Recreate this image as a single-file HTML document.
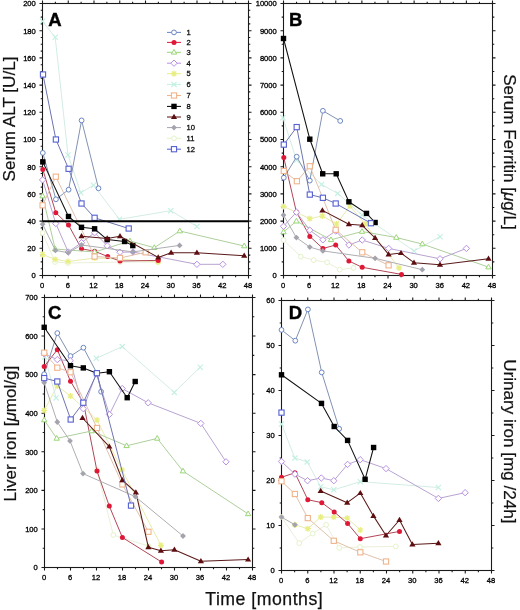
<!DOCTYPE html>
<html><head><meta charset="utf-8"><style>
html,body{margin:0;padding:0;background:#fff;overflow:hidden;width:520px;height:610px;}
svg{display:block;filter:blur(0.45px);}
text{font-family:"Liberation Sans",sans-serif;fill:#111;}
.tl{font-size:7.6px;fill:#000;stroke:#000;stroke-width:0.3px;}
.lg{font-size:7.6px;stroke:#111;stroke-width:0.3px;}
.pl{font-size:18.5px;font-weight:bold;fill:#000;stroke:#000;stroke-width:0.4px;}
.ti{font-size:17.1px;stroke:#111;stroke-width:0.2px;}
.tt{font-size:17.7px;letter-spacing:0.5px;stroke:#111;stroke-width:0.25px;}
</style></head><body>
<svg width="520" height="610" viewBox="0 0 520 610">
<rect x="42.50" y="3.50" width="206.00" height="272.00" fill="none" stroke="#1a1a1a" stroke-width="1.1"/>
<path d="M42.50 275.50v3M42.50 3.50v-3M55.38 275.50v1.8M55.38 3.50v-1.8M68.25 275.50v3M68.25 3.50v-3M81.12 275.50v1.8M81.12 3.50v-1.8M94.00 275.50v3M94.00 3.50v-3M106.88 275.50v1.8M106.88 3.50v-1.8M119.75 275.50v3M119.75 3.50v-3M132.62 275.50v1.8M132.62 3.50v-1.8M145.50 275.50v3M145.50 3.50v-3M158.38 275.50v1.8M158.38 3.50v-1.8M171.25 275.50v3M171.25 3.50v-3M184.12 275.50v1.8M184.12 3.50v-1.8M197.00 275.50v3M197.00 3.50v-3M209.88 275.50v1.8M209.88 3.50v-1.8M222.75 275.50v3M222.75 3.50v-3M235.62 275.50v1.8M235.62 3.50v-1.8M248.50 275.50v3M248.50 3.50v-3M42.50 275.50h-3M248.50 275.50h3M42.50 268.70h-1.8M248.50 268.70h1.8M42.50 261.90h-1.8M248.50 261.90h1.8M42.50 255.10h-1.8M248.50 255.10h1.8M42.50 248.30h-3M248.50 248.30h3M42.50 241.50h-1.8M248.50 241.50h1.8M42.50 234.70h-1.8M248.50 234.70h1.8M42.50 227.90h-1.8M248.50 227.90h1.8M42.50 221.10h-3M248.50 221.10h3M42.50 214.30h-1.8M248.50 214.30h1.8M42.50 207.50h-1.8M248.50 207.50h1.8M42.50 200.70h-1.8M248.50 200.70h1.8M42.50 193.90h-3M248.50 193.90h3M42.50 187.10h-1.8M248.50 187.10h1.8M42.50 180.30h-1.8M248.50 180.30h1.8M42.50 173.50h-1.8M248.50 173.50h1.8M42.50 166.70h-3M248.50 166.70h3M42.50 159.90h-1.8M248.50 159.90h1.8M42.50 153.10h-1.8M248.50 153.10h1.8M42.50 146.30h-1.8M248.50 146.30h1.8M42.50 139.50h-3M248.50 139.50h3M42.50 132.70h-1.8M248.50 132.70h1.8M42.50 125.90h-1.8M248.50 125.90h1.8M42.50 119.10h-1.8M248.50 119.10h1.8M42.50 112.30h-3M248.50 112.30h3M42.50 105.50h-1.8M248.50 105.50h1.8M42.50 98.70h-1.8M248.50 98.70h1.8M42.50 91.90h-1.8M248.50 91.90h1.8M42.50 85.10h-3M248.50 85.10h3M42.50 78.30h-1.8M248.50 78.30h1.8M42.50 71.50h-1.8M248.50 71.50h1.8M42.50 64.70h-1.8M248.50 64.70h1.8M42.50 57.90h-3M248.50 57.90h3M42.50 51.10h-1.8M248.50 51.10h1.8M42.50 44.30h-1.8M248.50 44.30h1.8M42.50 37.50h-1.8M248.50 37.50h1.8M42.50 30.70h-3M248.50 30.70h3M42.50 23.90h-1.8M248.50 23.90h1.8M42.50 17.10h-1.8M248.50 17.10h1.8M42.50 10.30h-1.8M248.50 10.30h1.8M42.50 3.50h-3M248.50 3.50h3" stroke="#1a1a1a" stroke-width="1.1" fill="none"/>
<text x="35.80" y="278.30" class="tl" text-anchor="end">0</text>
<text x="35.80" y="251.10" class="tl" text-anchor="end">20</text>
<text x="35.80" y="223.90" class="tl" text-anchor="end">40</text>
<text x="35.80" y="196.70" class="tl" text-anchor="end">60</text>
<text x="35.80" y="169.50" class="tl" text-anchor="end">80</text>
<text x="35.80" y="142.30" class="tl" text-anchor="end">100</text>
<text x="35.80" y="115.10" class="tl" text-anchor="end">120</text>
<text x="35.80" y="87.90" class="tl" text-anchor="end">140</text>
<text x="35.80" y="60.70" class="tl" text-anchor="end">160</text>
<text x="35.80" y="33.50" class="tl" text-anchor="end">180</text>
<text x="35.80" y="6.30" class="tl" text-anchor="end">200</text>
<text x="42.00" y="287.90" class="tl" text-anchor="middle">0</text>
<text x="67.75" y="287.90" class="tl" text-anchor="middle">6</text>
<text x="93.50" y="287.90" class="tl" text-anchor="middle">12</text>
<text x="119.25" y="287.90" class="tl" text-anchor="middle">18</text>
<text x="145.00" y="287.90" class="tl" text-anchor="middle">24</text>
<text x="170.75" y="287.90" class="tl" text-anchor="middle">30</text>
<text x="196.50" y="287.90" class="tl" text-anchor="middle">36</text>
<text x="222.25" y="287.90" class="tl" text-anchor="middle">42</text>
<text x="248.00" y="287.90" class="tl" text-anchor="middle">48</text>
<rect x="283.50" y="3.50" width="209.00" height="272.00" fill="none" stroke="#1a1a1a" stroke-width="1.1"/>
<path d="M283.50 275.50v3M283.50 3.50v-3M296.56 275.50v1.8M296.56 3.50v-1.8M309.62 275.50v3M309.62 3.50v-3M322.69 275.50v1.8M322.69 3.50v-1.8M335.75 275.50v3M335.75 3.50v-3M348.81 275.50v1.8M348.81 3.50v-1.8M361.88 275.50v3M361.88 3.50v-3M374.94 275.50v1.8M374.94 3.50v-1.8M388.00 275.50v3M388.00 3.50v-3M401.06 275.50v1.8M401.06 3.50v-1.8M414.12 275.50v3M414.12 3.50v-3M427.19 275.50v1.8M427.19 3.50v-1.8M440.25 275.50v3M440.25 3.50v-3M453.31 275.50v1.8M453.31 3.50v-1.8M466.38 275.50v3M466.38 3.50v-3M479.44 275.50v1.8M479.44 3.50v-1.8M492.50 275.50v3M492.50 3.50v-3M283.50 275.50h-3M492.50 275.50h3M283.50 261.90h-1.8M492.50 261.90h1.8M283.50 248.30h-3M492.50 248.30h3M283.50 234.70h-1.8M492.50 234.70h1.8M283.50 221.10h-3M492.50 221.10h3M283.50 207.50h-1.8M492.50 207.50h1.8M283.50 193.90h-3M492.50 193.90h3M283.50 180.30h-1.8M492.50 180.30h1.8M283.50 166.70h-3M492.50 166.70h3M283.50 153.10h-1.8M492.50 153.10h1.8M283.50 139.50h-3M492.50 139.50h3M283.50 125.90h-1.8M492.50 125.90h1.8M283.50 112.30h-3M492.50 112.30h3M283.50 98.70h-1.8M492.50 98.70h1.8M283.50 85.10h-3M492.50 85.10h3M283.50 71.50h-1.8M492.50 71.50h1.8M283.50 57.90h-3M492.50 57.90h3M283.50 44.30h-1.8M492.50 44.30h1.8M283.50 30.70h-3M492.50 30.70h3M283.50 17.10h-1.8M492.50 17.10h1.8M283.50 3.50h-3M492.50 3.50h3" stroke="#1a1a1a" stroke-width="1.1" fill="none"/>
<text x="276.80" y="278.30" class="tl" text-anchor="end">0</text>
<text x="276.80" y="251.10" class="tl" text-anchor="end">1000</text>
<text x="276.80" y="223.90" class="tl" text-anchor="end">2000</text>
<text x="276.80" y="196.70" class="tl" text-anchor="end">3000</text>
<text x="276.80" y="169.50" class="tl" text-anchor="end">4000</text>
<text x="276.80" y="142.30" class="tl" text-anchor="end">5000</text>
<text x="276.80" y="115.10" class="tl" text-anchor="end">6000</text>
<text x="276.80" y="87.90" class="tl" text-anchor="end">7000</text>
<text x="276.80" y="60.70" class="tl" text-anchor="end">8000</text>
<text x="276.80" y="33.50" class="tl" text-anchor="end">9000</text>
<text x="276.80" y="6.30" class="tl" text-anchor="end">10000</text>
<text x="283.00" y="287.90" class="tl" text-anchor="middle">0</text>
<text x="309.12" y="287.90" class="tl" text-anchor="middle">6</text>
<text x="335.25" y="287.90" class="tl" text-anchor="middle">12</text>
<text x="361.38" y="287.90" class="tl" text-anchor="middle">18</text>
<text x="387.50" y="287.90" class="tl" text-anchor="middle">24</text>
<text x="413.62" y="287.90" class="tl" text-anchor="middle">30</text>
<text x="439.75" y="287.90" class="tl" text-anchor="middle">36</text>
<text x="465.88" y="287.90" class="tl" text-anchor="middle">42</text>
<text x="492.00" y="287.90" class="tl" text-anchor="middle">48</text>
<rect x="44.50" y="297.50" width="208.00" height="270.00" fill="none" stroke="#1a1a1a" stroke-width="1.1"/>
<path d="M44.50 567.50v3M44.50 297.50v-3M57.50 567.50v1.8M57.50 297.50v-1.8M70.50 567.50v3M70.50 297.50v-3M83.50 567.50v1.8M83.50 297.50v-1.8M96.50 567.50v3M96.50 297.50v-3M109.50 567.50v1.8M109.50 297.50v-1.8M122.50 567.50v3M122.50 297.50v-3M135.50 567.50v1.8M135.50 297.50v-1.8M148.50 567.50v3M148.50 297.50v-3M161.50 567.50v1.8M161.50 297.50v-1.8M174.50 567.50v3M174.50 297.50v-3M187.50 567.50v1.8M187.50 297.50v-1.8M200.50 567.50v3M200.50 297.50v-3M213.50 567.50v1.8M213.50 297.50v-1.8M226.50 567.50v3M226.50 297.50v-3M239.50 567.50v1.8M239.50 297.50v-1.8M252.50 567.50v3M252.50 297.50v-3M44.50 567.50h-3M252.50 567.50h3M44.50 548.21h-1.8M252.50 548.21h1.8M44.50 528.93h-3M252.50 528.93h3M44.50 509.64h-1.8M252.50 509.64h1.8M44.50 490.36h-3M252.50 490.36h3M44.50 471.07h-1.8M252.50 471.07h1.8M44.50 451.79h-3M252.50 451.79h3M44.50 432.50h-1.8M252.50 432.50h1.8M44.50 413.21h-3M252.50 413.21h3M44.50 393.93h-1.8M252.50 393.93h1.8M44.50 374.64h-3M252.50 374.64h3M44.50 355.36h-1.8M252.50 355.36h1.8M44.50 336.07h-3M252.50 336.07h3M44.50 316.79h-1.8M252.50 316.79h1.8M44.50 297.50h-3M252.50 297.50h3" stroke="#1a1a1a" stroke-width="1.1" fill="none"/>
<text x="37.80" y="570.30" class="tl" text-anchor="end">0</text>
<text x="37.80" y="531.73" class="tl" text-anchor="end">100</text>
<text x="37.80" y="493.16" class="tl" text-anchor="end">200</text>
<text x="37.80" y="454.59" class="tl" text-anchor="end">300</text>
<text x="37.80" y="416.01" class="tl" text-anchor="end">400</text>
<text x="37.80" y="377.44" class="tl" text-anchor="end">500</text>
<text x="37.80" y="338.87" class="tl" text-anchor="end">600</text>
<text x="37.80" y="300.30" class="tl" text-anchor="end">700</text>
<text x="44.00" y="579.90" class="tl" text-anchor="middle">0</text>
<text x="70.00" y="579.90" class="tl" text-anchor="middle">6</text>
<text x="96.00" y="579.90" class="tl" text-anchor="middle">12</text>
<text x="122.00" y="579.90" class="tl" text-anchor="middle">18</text>
<text x="148.00" y="579.90" class="tl" text-anchor="middle">24</text>
<text x="174.00" y="579.90" class="tl" text-anchor="middle">30</text>
<text x="200.00" y="579.90" class="tl" text-anchor="middle">36</text>
<text x="226.00" y="579.90" class="tl" text-anchor="middle">42</text>
<text x="252.00" y="579.90" class="tl" text-anchor="middle">48</text>
<rect x="281.50" y="300.50" width="210.00" height="270.00" fill="none" stroke="#1a1a1a" stroke-width="1.1"/>
<path d="M281.50 570.50v3M281.50 300.50v-3M294.62 570.50v1.8M294.62 300.50v-1.8M307.75 570.50v3M307.75 300.50v-3M320.88 570.50v1.8M320.88 300.50v-1.8M334.00 570.50v3M334.00 300.50v-3M347.12 570.50v1.8M347.12 300.50v-1.8M360.25 570.50v3M360.25 300.50v-3M373.38 570.50v1.8M373.38 300.50v-1.8M386.50 570.50v3M386.50 300.50v-3M399.62 570.50v1.8M399.62 300.50v-1.8M412.75 570.50v3M412.75 300.50v-3M425.88 570.50v1.8M425.88 300.50v-1.8M439.00 570.50v3M439.00 300.50v-3M452.12 570.50v1.8M452.12 300.50v-1.8M465.25 570.50v3M465.25 300.50v-3M478.38 570.50v1.8M478.38 300.50v-1.8M491.50 570.50v3M491.50 300.50v-3M281.50 570.50h-3M491.50 570.50h3M281.50 548.00h-1.8M491.50 548.00h1.8M281.50 525.50h-3M491.50 525.50h3M281.50 503.00h-1.8M491.50 503.00h1.8M281.50 480.50h-3M491.50 480.50h3M281.50 458.00h-1.8M491.50 458.00h1.8M281.50 435.50h-3M491.50 435.50h3M281.50 413.00h-1.8M491.50 413.00h1.8M281.50 390.50h-3M491.50 390.50h3M281.50 368.00h-1.8M491.50 368.00h1.8M281.50 345.50h-3M491.50 345.50h3M281.50 323.00h-1.8M491.50 323.00h1.8M281.50 300.50h-3M491.50 300.50h3" stroke="#1a1a1a" stroke-width="1.1" fill="none"/>
<text x="274.80" y="573.30" class="tl" text-anchor="end">0</text>
<text x="274.80" y="528.30" class="tl" text-anchor="end">10</text>
<text x="274.80" y="483.30" class="tl" text-anchor="end">20</text>
<text x="274.80" y="438.30" class="tl" text-anchor="end">30</text>
<text x="274.80" y="393.30" class="tl" text-anchor="end">40</text>
<text x="274.80" y="348.30" class="tl" text-anchor="end">50</text>
<text x="274.80" y="303.30" class="tl" text-anchor="end">60</text>
<text x="281.00" y="582.90" class="tl" text-anchor="middle">0</text>
<text x="307.25" y="582.90" class="tl" text-anchor="middle">6</text>
<text x="333.50" y="582.90" class="tl" text-anchor="middle">12</text>
<text x="359.75" y="582.90" class="tl" text-anchor="middle">18</text>
<text x="386.00" y="582.90" class="tl" text-anchor="middle">24</text>
<text x="412.25" y="582.90" class="tl" text-anchor="middle">30</text>
<text x="438.50" y="582.90" class="tl" text-anchor="middle">36</text>
<text x="464.75" y="582.90" class="tl" text-anchor="middle">42</text>
<text x="491.00" y="582.90" class="tl" text-anchor="middle">48</text>
<path d="M42.6 233.0 L55.0 262.0 L68.0 263.0 L120.0 262.0 L158.0 262.0" fill="none" stroke="#e9f0d9" stroke-width="1" stroke-linejoin="round"/>
<circle cx="42.6" cy="233.0" r="2.4" fill="#fff" stroke="#e4f2c8" stroke-width="1"/>
<circle cx="55.0" cy="262.0" r="2.4" fill="#fff" stroke="#e4f2c8" stroke-width="1"/>
<circle cx="68.0" cy="263.0" r="2.4" fill="#fff" stroke="#e4f2c8" stroke-width="1"/>
<circle cx="120.0" cy="262.0" r="2.4" fill="#fff" stroke="#e4f2c8" stroke-width="1"/>
<circle cx="158.0" cy="262.0" r="2.4" fill="#fff" stroke="#e4f2c8" stroke-width="1"/>
<path d="M42.6 254.5 L55.2 259.4 L68.0 261.5 L94.6 258.0 L120.0 259.0 L158.0 262.0" fill="none" stroke="#e7ebaf" stroke-width="1" stroke-linejoin="round"/>
<path d="M39.6 254.5h6M42.6 251.5v6M40.4 252.3l4.4 4.4M44.8 252.3l-4.4 4.4" stroke="#e8ee80" stroke-width="1.2"/>
<path d="M52.2 259.4h6M55.2 256.4v6M53.0 257.2l4.4 4.4M57.4 257.2l-4.4 4.4" stroke="#e8ee80" stroke-width="1.2"/>
<path d="M65.0 261.5h6M68.0 258.5v6M65.8 259.3l4.4 4.4M70.2 259.3l-4.4 4.4" stroke="#e8ee80" stroke-width="1.2"/>
<path d="M91.6 258.0h6M94.6 255.0v6M92.4 255.8l4.4 4.4M96.8 255.8l-4.4 4.4" stroke="#e8ee80" stroke-width="1.2"/>
<path d="M117.0 259.0h6M120.0 256.0v6M117.8 256.8l4.4 4.4M122.2 256.8l-4.4 4.4" stroke="#e8ee80" stroke-width="1.2"/>
<path d="M155.0 262.0h6M158.0 259.0v6M155.8 259.8l4.4 4.4M160.2 259.8l-4.4 4.4" stroke="#e8ee80" stroke-width="1.2"/>
<path d="M42.5 21.3 L55.2 37.3 L68.0 155.0 L80.8 192.8 L93.5 185.2 L119.4 219.3 L170.8 210.7 L196.9 226.5" fill="none" stroke="#d3ece4" stroke-width="1" stroke-linejoin="round"/>
<path d="M39.9 18.7l5.2 5.2M45.1 18.7l-5.2 5.2" stroke="#c2f0e2" stroke-width="1.1"/>
<path d="M52.6 34.7l5.2 5.2M57.8 34.7l-5.2 5.2" stroke="#c2f0e2" stroke-width="1.1"/>
<path d="M65.4 152.4l5.2 5.2M70.6 152.4l-5.2 5.2" stroke="#c2f0e2" stroke-width="1.1"/>
<path d="M78.2 190.2l5.2 5.2M83.4 190.2l-5.2 5.2" stroke="#c2f0e2" stroke-width="1.1"/>
<path d="M90.9 182.6l5.2 5.2M96.1 182.6l-5.2 5.2" stroke="#c2f0e2" stroke-width="1.1"/>
<path d="M116.8 216.7l5.2 5.2M122.0 216.7l-5.2 5.2" stroke="#c2f0e2" stroke-width="1.1"/>
<path d="M168.2 208.1l5.2 5.2M173.4 208.1l-5.2 5.2" stroke="#c2f0e2" stroke-width="1.1"/>
<path d="M194.3 223.9l5.2 5.2M199.5 223.9l-5.2 5.2" stroke="#c2f0e2" stroke-width="1.1"/>
<path d="M42.8 152.9 L55.9 199.3 L68.6 189.7 L81.6 120.4 L98.5 188.3" fill="none" stroke="#8292b2" stroke-width="1" stroke-linejoin="round"/>
<circle cx="42.8" cy="152.9" r="2.4" fill="#fff" stroke="#6a86c2" stroke-width="1"/>
<circle cx="55.9" cy="199.3" r="2.4" fill="#fff" stroke="#6a86c2" stroke-width="1"/>
<circle cx="68.6" cy="189.7" r="2.4" fill="#fff" stroke="#6a86c2" stroke-width="1"/>
<circle cx="81.6" cy="120.4" r="2.4" fill="#fff" stroke="#6a86c2" stroke-width="1"/>
<circle cx="98.5" cy="188.3" r="2.4" fill="#fff" stroke="#6a86c2" stroke-width="1"/>
<path d="M42.8 169.4 L55.8 212.7 L68.5 225.0 L81.5 248.8 L94.6 251.2 L107.7 256.5 L120.0 261.0 L158.2 260.4" fill="none" stroke="#b24657" stroke-width="1" stroke-linejoin="round"/>
<circle cx="42.8" cy="169.4" r="2.5" fill="#e01838"/>
<circle cx="55.8" cy="212.7" r="2.5" fill="#e01838"/>
<circle cx="68.5" cy="225.0" r="2.5" fill="#e01838"/>
<circle cx="81.5" cy="248.8" r="2.5" fill="#e01838"/>
<circle cx="94.6" cy="251.2" r="2.5" fill="#e01838"/>
<circle cx="107.7" cy="256.5" r="2.5" fill="#e01838"/>
<circle cx="120.0" cy="261.0" r="2.5" fill="#e01838"/>
<circle cx="158.2" cy="260.4" r="2.5" fill="#e01838"/>
<path d="M42.6 196.0 L55.2 249.0 L94.6 252.0 L130.0 241.0 L154.3 247.7 L179.8 231.0 L244.2 246.0" fill="none" stroke="#aecf9c" stroke-width="1" stroke-linejoin="round"/>
<path d="M42.6 193.1L45.3 197.8H39.9Z" fill="#fff" stroke="#98d676" stroke-width="1"/>
<path d="M55.2 246.1L57.9 250.8H52.5Z" fill="#fff" stroke="#98d676" stroke-width="1"/>
<path d="M94.6 249.1L97.3 253.8H91.9Z" fill="#fff" stroke="#98d676" stroke-width="1"/>
<path d="M130.0 238.1L132.7 242.8H127.3Z" fill="#fff" stroke="#98d676" stroke-width="1"/>
<path d="M154.3 244.8L157.0 249.5H151.6Z" fill="#fff" stroke="#98d676" stroke-width="1"/>
<path d="M179.8 228.1L182.5 232.8H177.1Z" fill="#fff" stroke="#98d676" stroke-width="1"/>
<path d="M244.2 243.1L246.9 247.8H241.5Z" fill="#fff" stroke="#98d676" stroke-width="1"/>
<path d="M42.6 179.9 L55.8 223.5 L68.2 252.0 L81.5 242.7 L94.6 232.7 L107.2 245.8 L120.0 252.2 L133.0 252.0 L196.9 264.3 L222.8 264.3" fill="none" stroke="#b8a3d0" stroke-width="1" stroke-linejoin="round"/>
<path d="M42.6 176.7L45.8 179.9L42.6 183.1L39.4 179.9Z" fill="#fff" stroke="#b890e4" stroke-width="1"/>
<path d="M55.8 220.3L59.0 223.5L55.8 226.7L52.6 223.5Z" fill="#fff" stroke="#b890e4" stroke-width="1"/>
<path d="M68.2 248.8L71.4 252.0L68.2 255.2L65.0 252.0Z" fill="#fff" stroke="#b890e4" stroke-width="1"/>
<path d="M81.5 239.5L84.7 242.7L81.5 245.9L78.3 242.7Z" fill="#fff" stroke="#b890e4" stroke-width="1"/>
<path d="M94.6 229.5L97.8 232.7L94.6 235.9L91.4 232.7Z" fill="#fff" stroke="#b890e4" stroke-width="1"/>
<path d="M107.2 242.6L110.4 245.8L107.2 249.0L104.0 245.8Z" fill="#fff" stroke="#b890e4" stroke-width="1"/>
<path d="M120.0 249.0L123.2 252.2L120.0 255.4L116.8 252.2Z" fill="#fff" stroke="#b890e4" stroke-width="1"/>
<path d="M133.0 248.8L136.2 252.0L133.0 255.2L129.8 252.0Z" fill="#fff" stroke="#b890e4" stroke-width="1"/>
<path d="M196.9 261.1L200.1 264.3L196.9 267.5L193.7 264.3Z" fill="#fff" stroke="#b890e4" stroke-width="1"/>
<path d="M222.8 261.1L226.0 264.3L222.8 267.5L219.6 264.3Z" fill="#fff" stroke="#b890e4" stroke-width="1"/>
<path d="M42.6 205.3 L55.8 176.7 L94.6 256.5 L120.0 258.0 L145.7 252.3" fill="none" stroke="#e1c0ab" stroke-width="1" stroke-linejoin="round"/>
<rect x="40.0" y="202.7" width="5.2" height="5.2" fill="#fff" stroke="#f0b48c" stroke-width="1.1"/>
<rect x="53.2" y="174.1" width="5.2" height="5.2" fill="#fff" stroke="#f0b48c" stroke-width="1.1"/>
<rect x="92.0" y="253.9" width="5.2" height="5.2" fill="#fff" stroke="#f0b48c" stroke-width="1.1"/>
<rect x="117.4" y="255.4" width="5.2" height="5.2" fill="#fff" stroke="#f0b48c" stroke-width="1.1"/>
<rect x="143.1" y="249.7" width="5.2" height="5.2" fill="#fff" stroke="#f0b48c" stroke-width="1.1"/>
<path d="M42.8 161.9 L68.5 216.5 L81.5 227.3 L94.6 228.8 L107.2 239.6 L124.6 241.5 L132.8 245.6" fill="none" stroke="#111111" stroke-width="1.05" stroke-linejoin="round"/>
<rect x="40.1" y="159.2" width="5.4" height="5.4" fill="#000000"/>
<rect x="65.8" y="213.8" width="5.4" height="5.4" fill="#000000"/>
<rect x="78.8" y="224.6" width="5.4" height="5.4" fill="#000000"/>
<rect x="91.9" y="226.1" width="5.4" height="5.4" fill="#000000"/>
<rect x="104.5" y="236.9" width="5.4" height="5.4" fill="#000000"/>
<rect x="121.9" y="238.8" width="5.4" height="5.4" fill="#000000"/>
<rect x="130.1" y="242.9" width="5.4" height="5.4" fill="#000000"/>
<path d="M81.5 236.2 L107.2 238.5 L120.0 236.2 L158.2 257.4 L171.1 252.8 L196.9 252.8 L244.2 255.8" fill="none" stroke="#5a1a1a" stroke-width="1.05" stroke-linejoin="round"/>
<path d="M81.5 233.0L84.6 238.2H78.4Z" fill="#5e0e10"/>
<path d="M107.2 235.3L110.3 240.5H104.1Z" fill="#5e0e10"/>
<path d="M120.0 233.0L123.1 238.2H116.9Z" fill="#5e0e10"/>
<path d="M158.2 254.2L161.3 259.4H155.1Z" fill="#5e0e10"/>
<path d="M171.1 249.6L174.2 254.8H168.0Z" fill="#5e0e10"/>
<path d="M196.9 249.6L200.0 254.8H193.8Z" fill="#5e0e10"/>
<path d="M244.2 252.6L247.3 257.8H241.1Z" fill="#5e0e10"/>
<path d="M42.6 224.2 L55.4 250.4 L68.2 252.7 L81.5 245.0 L133.0 251.9 L179.6 245.4" fill="none" stroke="#aeaeb3" stroke-width="1" stroke-linejoin="round"/>
<path d="M42.6 221.3L45.5 224.2L42.6 227.1L39.7 224.2Z" fill="#a4a4ae"/>
<path d="M55.4 247.5L58.3 250.4L55.4 253.3L52.5 250.4Z" fill="#a4a4ae"/>
<path d="M68.2 249.8L71.1 252.7L68.2 255.6L65.3 252.7Z" fill="#a4a4ae"/>
<path d="M81.5 242.1L84.4 245.0L81.5 247.9L78.6 245.0Z" fill="#a4a4ae"/>
<path d="M133.0 249.0L135.9 251.9L133.0 254.8L130.1 251.9Z" fill="#a4a4ae"/>
<path d="M179.6 242.5L182.5 245.4L179.6 248.3L176.7 245.4Z" fill="#a4a4ae"/>
<path d="M43.0 74.5 L55.9 139.5 L68.6 168.8 L81.5 203.5 L94.6 217.8 L128.7 228.5" fill="none" stroke="#6e74b1" stroke-width="1" stroke-linejoin="round"/>
<rect x="40.4" y="71.9" width="5.2" height="5.2" fill="#fff" stroke="#5660d2" stroke-width="1.1"/>
<rect x="53.3" y="136.9" width="5.2" height="5.2" fill="#fff" stroke="#5660d2" stroke-width="1.1"/>
<rect x="66.0" y="166.2" width="5.2" height="5.2" fill="#fff" stroke="#5660d2" stroke-width="1.1"/>
<rect x="78.9" y="200.9" width="5.2" height="5.2" fill="#fff" stroke="#5660d2" stroke-width="1.1"/>
<rect x="92.0" y="215.2" width="5.2" height="5.2" fill="#fff" stroke="#5660d2" stroke-width="1.1"/>
<rect x="126.1" y="225.9" width="5.2" height="5.2" fill="#fff" stroke="#5660d2" stroke-width="1.1"/>
<path d="M283.5 240.0 L300.8 256.6 L313.7 260.1 L327.1 262.3 L339.7 269.6 L353.6 267.9" fill="none" stroke="#e9f0d9" stroke-width="1" stroke-linejoin="round"/>
<circle cx="283.5" cy="240.0" r="2.4" fill="#fff" stroke="#e4f2c8" stroke-width="1"/>
<circle cx="300.8" cy="256.6" r="2.4" fill="#fff" stroke="#e4f2c8" stroke-width="1"/>
<circle cx="313.7" cy="260.1" r="2.4" fill="#fff" stroke="#e4f2c8" stroke-width="1"/>
<circle cx="327.1" cy="262.3" r="2.4" fill="#fff" stroke="#e4f2c8" stroke-width="1"/>
<circle cx="339.7" cy="269.6" r="2.4" fill="#fff" stroke="#e4f2c8" stroke-width="1"/>
<circle cx="353.6" cy="267.9" r="2.4" fill="#fff" stroke="#e4f2c8" stroke-width="1"/>
<path d="M283.5 206.4 L309.8 218.6 L322.4 216.0 L336.5 224.0 L350.0 206.0 L365.0 224.0 L399.0 267.9" fill="none" stroke="#e7ebaf" stroke-width="1" stroke-linejoin="round"/>
<path d="M280.5 206.4h6M283.5 203.4v6M281.3 204.2l4.4 4.4M285.7 204.2l-4.4 4.4" stroke="#e8ee80" stroke-width="1.2"/>
<path d="M306.8 218.6h6M309.8 215.6v6M307.6 216.4l4.4 4.4M312.0 216.4l-4.4 4.4" stroke="#e8ee80" stroke-width="1.2"/>
<path d="M319.4 216.0h6M322.4 213.0v6M320.2 213.8l4.4 4.4M324.6 213.8l-4.4 4.4" stroke="#e8ee80" stroke-width="1.2"/>
<path d="M333.5 224.0h6M336.5 221.0v6M334.3 221.8l4.4 4.4M338.7 221.8l-4.4 4.4" stroke="#e8ee80" stroke-width="1.2"/>
<path d="M347.0 206.0h6M350.0 203.0v6M347.8 203.8l4.4 4.4M352.2 203.8l-4.4 4.4" stroke="#e8ee80" stroke-width="1.2"/>
<path d="M362.0 224.0h6M365.0 221.0v6M362.8 221.8l4.4 4.4M367.2 221.8l-4.4 4.4" stroke="#e8ee80" stroke-width="1.2"/>
<path d="M396.0 267.9h6M399.0 264.9v6M396.8 265.7l4.4 4.4M401.2 265.7l-4.4 4.4" stroke="#e8ee80" stroke-width="1.2"/>
<path d="M282.9 117.7 L296.5 160.0 L321.5 184.4 L337.7 193.4 L362.0 215.0 L414.0 251.0 L440.0 236.7" fill="none" stroke="#d3ece4" stroke-width="1" stroke-linejoin="round"/>
<path d="M280.3 115.1l5.2 5.2M285.5 115.1l-5.2 5.2" stroke="#c2f0e2" stroke-width="1.1"/>
<path d="M293.9 157.4l5.2 5.2M299.1 157.4l-5.2 5.2" stroke="#c2f0e2" stroke-width="1.1"/>
<path d="M318.9 181.8l5.2 5.2M324.1 181.8l-5.2 5.2" stroke="#c2f0e2" stroke-width="1.1"/>
<path d="M335.1 190.8l5.2 5.2M340.3 190.8l-5.2 5.2" stroke="#c2f0e2" stroke-width="1.1"/>
<path d="M359.4 212.4l5.2 5.2M364.6 212.4l-5.2 5.2" stroke="#c2f0e2" stroke-width="1.1"/>
<path d="M411.4 248.4l5.2 5.2M416.6 248.4l-5.2 5.2" stroke="#c2f0e2" stroke-width="1.1"/>
<path d="M437.4 234.1l5.2 5.2M442.6 234.1l-5.2 5.2" stroke="#c2f0e2" stroke-width="1.1"/>
<path d="M283.8 177.7 L296.7 156.7 L309.8 180.6 L322.9 110.8 L340.2 120.9" fill="none" stroke="#8292b2" stroke-width="1" stroke-linejoin="round"/>
<circle cx="283.8" cy="177.7" r="2.4" fill="#fff" stroke="#6a86c2" stroke-width="1"/>
<circle cx="296.7" cy="156.7" r="2.4" fill="#fff" stroke="#6a86c2" stroke-width="1"/>
<circle cx="309.8" cy="180.6" r="2.4" fill="#fff" stroke="#6a86c2" stroke-width="1"/>
<circle cx="322.9" cy="110.8" r="2.4" fill="#fff" stroke="#6a86c2" stroke-width="1"/>
<circle cx="340.2" cy="120.9" r="2.4" fill="#fff" stroke="#6a86c2" stroke-width="1"/>
<path d="M283.8 157.6 L296.4 212.0 L309.8 236.4 L322.9 248.5 L335.7 245.0 L348.9 261.0 L362.2 267.3 L401.5 274.4" fill="none" stroke="#b24657" stroke-width="1" stroke-linejoin="round"/>
<circle cx="283.8" cy="157.6" r="2.5" fill="#e01838"/>
<circle cx="296.4" cy="212.0" r="2.5" fill="#e01838"/>
<circle cx="309.8" cy="236.4" r="2.5" fill="#e01838"/>
<circle cx="322.9" cy="248.5" r="2.5" fill="#e01838"/>
<circle cx="335.7" cy="245.0" r="2.5" fill="#e01838"/>
<circle cx="348.9" cy="261.0" r="2.5" fill="#e01838"/>
<circle cx="362.2" cy="267.3" r="2.5" fill="#e01838"/>
<circle cx="401.5" cy="274.4" r="2.5" fill="#e01838"/>
<path d="M283.5 232.0 L296.4 221.2 L331.0 239.8 L362.0 231.5 L396.3 237.5 L422.3 244.0 L488.5 267.1" fill="none" stroke="#aecf9c" stroke-width="1" stroke-linejoin="round"/>
<path d="M283.5 229.1L286.2 233.8H280.8Z" fill="#fff" stroke="#98d676" stroke-width="1"/>
<path d="M296.4 218.3L299.1 223.0H293.7Z" fill="#fff" stroke="#98d676" stroke-width="1"/>
<path d="M331.0 236.9L333.7 241.6H328.3Z" fill="#fff" stroke="#98d676" stroke-width="1"/>
<path d="M362.0 228.6L364.7 233.3H359.3Z" fill="#fff" stroke="#98d676" stroke-width="1"/>
<path d="M396.3 234.6L399.0 239.3H393.6Z" fill="#fff" stroke="#98d676" stroke-width="1"/>
<path d="M422.3 241.1L425.0 245.8H419.6Z" fill="#fff" stroke="#98d676" stroke-width="1"/>
<path d="M488.5 264.2L491.2 268.9H485.8Z" fill="#fff" stroke="#98d676" stroke-width="1"/>
<path d="M283.5 226.3 L296.4 212.2 L309.8 230.2 L322.9 239.8 L335.7 231.0 L348.9 245.0 L362.2 240.0 L388.6 248.4 L440.0 258.8 L466.4 248.4" fill="none" stroke="#b8a3d0" stroke-width="1" stroke-linejoin="round"/>
<path d="M283.5 223.1L286.7 226.3L283.5 229.5L280.3 226.3Z" fill="#fff" stroke="#b890e4" stroke-width="1"/>
<path d="M296.4 209.0L299.6 212.2L296.4 215.4L293.2 212.2Z" fill="#fff" stroke="#b890e4" stroke-width="1"/>
<path d="M309.8 227.0L313.0 230.2L309.8 233.4L306.6 230.2Z" fill="#fff" stroke="#b890e4" stroke-width="1"/>
<path d="M322.9 236.6L326.1 239.8L322.9 243.0L319.7 239.8Z" fill="#fff" stroke="#b890e4" stroke-width="1"/>
<path d="M335.7 227.8L338.9 231.0L335.7 234.2L332.5 231.0Z" fill="#fff" stroke="#b890e4" stroke-width="1"/>
<path d="M348.9 241.8L352.1 245.0L348.9 248.2L345.7 245.0Z" fill="#fff" stroke="#b890e4" stroke-width="1"/>
<path d="M362.2 236.8L365.4 240.0L362.2 243.2L359.0 240.0Z" fill="#fff" stroke="#b890e4" stroke-width="1"/>
<path d="M388.6 245.2L391.8 248.4L388.6 251.6L385.4 248.4Z" fill="#fff" stroke="#b890e4" stroke-width="1"/>
<path d="M440.0 255.6L443.2 258.8L440.0 262.0L436.8 258.8Z" fill="#fff" stroke="#b890e4" stroke-width="1"/>
<path d="M466.4 245.2L469.6 248.4L466.4 251.6L463.2 248.4Z" fill="#fff" stroke="#b890e4" stroke-width="1"/>
<path d="M283.8 171.0 L296.9 181.2 L309.8 166.2 L335.7 229.8 L362.2 252.3 L388.6 265.3" fill="none" stroke="#e1c0ab" stroke-width="1" stroke-linejoin="round"/>
<rect x="281.2" y="168.4" width="5.2" height="5.2" fill="#fff" stroke="#f0b48c" stroke-width="1.1"/>
<rect x="294.3" y="178.6" width="5.2" height="5.2" fill="#fff" stroke="#f0b48c" stroke-width="1.1"/>
<rect x="307.2" y="163.6" width="5.2" height="5.2" fill="#fff" stroke="#f0b48c" stroke-width="1.1"/>
<rect x="333.1" y="227.2" width="5.2" height="5.2" fill="#fff" stroke="#f0b48c" stroke-width="1.1"/>
<rect x="359.6" y="249.7" width="5.2" height="5.2" fill="#fff" stroke="#f0b48c" stroke-width="1.1"/>
<rect x="386.0" y="262.7" width="5.2" height="5.2" fill="#fff" stroke="#f0b48c" stroke-width="1.1"/>
<path d="M283.5 38.5 L309.8 139.2 L322.7 173.8 L336.2 173.8 L348.9 201.8 L366.5 213.4 L375.1 222.5" fill="none" stroke="#111111" stroke-width="1.05" stroke-linejoin="round"/>
<rect x="280.8" y="35.8" width="5.4" height="5.4" fill="#000000"/>
<rect x="307.1" y="136.5" width="5.4" height="5.4" fill="#000000"/>
<rect x="320.0" y="171.1" width="5.4" height="5.4" fill="#000000"/>
<rect x="333.5" y="171.1" width="5.4" height="5.4" fill="#000000"/>
<rect x="346.2" y="199.1" width="5.4" height="5.4" fill="#000000"/>
<rect x="363.8" y="210.7" width="5.4" height="5.4" fill="#000000"/>
<rect x="372.4" y="219.8" width="5.4" height="5.4" fill="#000000"/>
<path d="M322.4 210.4 L348.9 224.3 L362.2 225.3 L375.1 238.0 L388.6 254.4 L401.0 253.1 L414.0 262.7 L440.0 264.8 L488.5 258.8" fill="none" stroke="#5a1a1a" stroke-width="1.05" stroke-linejoin="round"/>
<path d="M322.4 207.2L325.5 212.4H319.3Z" fill="#5e0e10"/>
<path d="M348.9 221.1L352.0 226.3H345.8Z" fill="#5e0e10"/>
<path d="M362.2 222.1L365.3 227.3H359.1Z" fill="#5e0e10"/>
<path d="M375.1 234.8L378.2 240.0H372.0Z" fill="#5e0e10"/>
<path d="M388.6 251.2L391.7 256.4H385.5Z" fill="#5e0e10"/>
<path d="M401.0 249.9L404.1 255.1H397.9Z" fill="#5e0e10"/>
<path d="M414.0 259.5L417.1 264.7H410.9Z" fill="#5e0e10"/>
<path d="M440.0 261.6L443.1 266.8H436.9Z" fill="#5e0e10"/>
<path d="M488.5 255.6L491.6 260.8H485.4Z" fill="#5e0e10"/>
<path d="M283.5 215.1 L296.4 237.6 L309.8 247.1 L322.9 250.9 L375.1 258.3 L422.3 269.7" fill="none" stroke="#aeaeb3" stroke-width="1" stroke-linejoin="round"/>
<path d="M283.5 212.2L286.4 215.1L283.5 218.0L280.6 215.1Z" fill="#a4a4ae"/>
<path d="M296.4 234.7L299.3 237.6L296.4 240.5L293.5 237.6Z" fill="#a4a4ae"/>
<path d="M309.8 244.2L312.7 247.1L309.8 250.0L306.9 247.1Z" fill="#a4a4ae"/>
<path d="M322.9 248.0L325.8 250.9L322.9 253.8L320.0 250.9Z" fill="#a4a4ae"/>
<path d="M375.1 255.4L378.0 258.3L375.1 261.2L372.2 258.3Z" fill="#a4a4ae"/>
<path d="M422.3 266.8L425.2 269.7L422.3 272.6L419.4 269.7Z" fill="#a4a4ae"/>
<path d="M283.8 144.6 L296.7 127.1 L309.8 194.6 L322.9 197.8 L335.7 203.5 L370.9 223.2" fill="none" stroke="#6e74b1" stroke-width="1" stroke-linejoin="round"/>
<rect x="281.2" y="142.0" width="5.2" height="5.2" fill="#fff" stroke="#5660d2" stroke-width="1.1"/>
<rect x="294.1" y="124.5" width="5.2" height="5.2" fill="#fff" stroke="#5660d2" stroke-width="1.1"/>
<rect x="307.2" y="192.0" width="5.2" height="5.2" fill="#fff" stroke="#5660d2" stroke-width="1.1"/>
<rect x="320.3" y="195.2" width="5.2" height="5.2" fill="#fff" stroke="#5660d2" stroke-width="1.1"/>
<rect x="333.1" y="200.9" width="5.2" height="5.2" fill="#fff" stroke="#5660d2" stroke-width="1.1"/>
<rect x="368.3" y="220.6" width="5.2" height="5.2" fill="#fff" stroke="#5660d2" stroke-width="1.1"/>
<path d="M97.0 470.0 L113.3 535.0 L148.4 546.0" fill="none" stroke="#e9f0d9" stroke-width="1" stroke-linejoin="round"/>
<circle cx="97.0" cy="470.0" r="2.4" fill="#fff" stroke="#e4f2c8" stroke-width="1"/>
<circle cx="113.3" cy="535.0" r="2.4" fill="#fff" stroke="#e4f2c8" stroke-width="1"/>
<circle cx="148.4" cy="546.0" r="2.4" fill="#fff" stroke="#e4f2c8" stroke-width="1"/>
<path d="M44.2 410.4 L57.2 386.0 L70.5 396.0 L97.0 420.0 L122.0 470.0 L160.9 545.3" fill="none" stroke="#e7ebaf" stroke-width="1" stroke-linejoin="round"/>
<path d="M41.2 410.4h6M44.2 407.4v6M42.0 408.2l4.4 4.4M46.4 408.2l-4.4 4.4" stroke="#e8ee80" stroke-width="1.2"/>
<path d="M54.2 386.0h6M57.2 383.0v6M55.0 383.8l4.4 4.4M59.4 383.8l-4.4 4.4" stroke="#e8ee80" stroke-width="1.2"/>
<path d="M67.5 396.0h6M70.5 393.0v6M68.3 393.8l4.4 4.4M72.7 393.8l-4.4 4.4" stroke="#e8ee80" stroke-width="1.2"/>
<path d="M94.0 420.0h6M97.0 417.0v6M94.8 417.8l4.4 4.4M99.2 417.8l-4.4 4.4" stroke="#e8ee80" stroke-width="1.2"/>
<path d="M119.0 470.0h6M122.0 467.0v6M119.8 467.8l4.4 4.4M124.2 467.8l-4.4 4.4" stroke="#e8ee80" stroke-width="1.2"/>
<path d="M157.9 545.3h6M160.9 542.3v6M158.7 543.1l4.4 4.4M163.1 543.1l-4.4 4.4" stroke="#e8ee80" stroke-width="1.2"/>
<path d="M44.9 357.0 L56.1 397.9" fill="none" stroke="#d3ece4" stroke-width="1" stroke-linejoin="round"/>
<path d="M96.3 358.3 L122.2 346.6 L174.3 392.4 L200.2 367.2" fill="none" stroke="#d3ece4" stroke-width="1" stroke-linejoin="round"/>
<path d="M42.3 354.4l5.2 5.2M47.5 354.4l-5.2 5.2" stroke="#c2f0e2" stroke-width="1.1"/>
<path d="M53.5 395.3l5.2 5.2M58.7 395.3l-5.2 5.2" stroke="#c2f0e2" stroke-width="1.1"/>
<path d="M93.7 355.7l5.2 5.2M98.9 355.7l-5.2 5.2" stroke="#c2f0e2" stroke-width="1.1"/>
<path d="M119.6 344.0l5.2 5.2M124.8 344.0l-5.2 5.2" stroke="#c2f0e2" stroke-width="1.1"/>
<path d="M171.7 389.8l5.2 5.2M176.9 389.8l-5.2 5.2" stroke="#c2f0e2" stroke-width="1.1"/>
<path d="M197.6 364.6l5.2 5.2M202.8 364.6l-5.2 5.2" stroke="#c2f0e2" stroke-width="1.1"/>
<path d="M44.2 374.2 L57.3 333.1 L70.5 356.1 L83.4 347.7 L97.0 373.3 L101.1 391.7" fill="none" stroke="#8292b2" stroke-width="1" stroke-linejoin="round"/>
<circle cx="44.2" cy="374.2" r="2.4" fill="#fff" stroke="#6a86c2" stroke-width="1"/>
<circle cx="57.3" cy="333.1" r="2.4" fill="#fff" stroke="#6a86c2" stroke-width="1"/>
<circle cx="70.5" cy="356.1" r="2.4" fill="#fff" stroke="#6a86c2" stroke-width="1"/>
<circle cx="83.4" cy="347.7" r="2.4" fill="#fff" stroke="#6a86c2" stroke-width="1"/>
<circle cx="97.0" cy="373.3" r="2.4" fill="#fff" stroke="#6a86c2" stroke-width="1"/>
<circle cx="101.1" cy="391.7" r="2.4" fill="#fff" stroke="#6a86c2" stroke-width="1"/>
<path d="M44.2 366.5 L57.3 349.7 L70.5 381.3 L83.5 403.0 L97.0 471.1 L109.3 506.1 L122.4 537.5 L161.6 562.0" fill="none" stroke="#b24657" stroke-width="1" stroke-linejoin="round"/>
<circle cx="44.2" cy="366.5" r="2.5" fill="#e01838"/>
<circle cx="57.3" cy="349.7" r="2.5" fill="#e01838"/>
<circle cx="70.5" cy="381.3" r="2.5" fill="#e01838"/>
<circle cx="83.5" cy="403.0" r="2.5" fill="#e01838"/>
<circle cx="97.0" cy="471.1" r="2.5" fill="#e01838"/>
<circle cx="109.3" cy="506.1" r="2.5" fill="#e01838"/>
<circle cx="122.4" cy="537.5" r="2.5" fill="#e01838"/>
<circle cx="161.6" cy="562.0" r="2.5" fill="#e01838"/>
<path d="M44.2 420.0 L56.7 438.4 L91.6 431.0 L126.6 445.8 L157.2 438.4 L183.0 471.1 L248.1 513.9" fill="none" stroke="#aecf9c" stroke-width="1" stroke-linejoin="round"/>
<path d="M44.2 417.1L46.9 421.8H41.5Z" fill="#fff" stroke="#98d676" stroke-width="1"/>
<path d="M56.7 435.5L59.4 440.2H54.0Z" fill="#fff" stroke="#98d676" stroke-width="1"/>
<path d="M91.6 428.1L94.3 432.8H88.9Z" fill="#fff" stroke="#98d676" stroke-width="1"/>
<path d="M126.6 442.9L129.3 447.6H123.9Z" fill="#fff" stroke="#98d676" stroke-width="1"/>
<path d="M157.2 435.5L159.9 440.2H154.5Z" fill="#fff" stroke="#98d676" stroke-width="1"/>
<path d="M183.0 468.2L185.7 472.9H180.3Z" fill="#fff" stroke="#98d676" stroke-width="1"/>
<path d="M248.1 511.0L250.8 515.7H245.4Z" fill="#fff" stroke="#98d676" stroke-width="1"/>
<path d="M44.2 353.8 L57.3 359.6 L70.2 360.7 L83.3 408.7 L96.3 373.5 L109.4 414.4 L122.2 388.6 L148.2 402.8 L200.8 423.4 L226.0 461.8" fill="none" stroke="#b8a3d0" stroke-width="1" stroke-linejoin="round"/>
<path d="M44.2 350.6L47.4 353.8L44.2 357.0L41.0 353.8Z" fill="#fff" stroke="#b890e4" stroke-width="1"/>
<path d="M57.3 356.4L60.5 359.6L57.3 362.8L54.1 359.6Z" fill="#fff" stroke="#b890e4" stroke-width="1"/>
<path d="M70.2 357.5L73.4 360.7L70.2 363.9L67.0 360.7Z" fill="#fff" stroke="#b890e4" stroke-width="1"/>
<path d="M83.3 405.5L86.5 408.7L83.3 411.9L80.1 408.7Z" fill="#fff" stroke="#b890e4" stroke-width="1"/>
<path d="M96.3 370.3L99.5 373.5L96.3 376.7L93.1 373.5Z" fill="#fff" stroke="#b890e4" stroke-width="1"/>
<path d="M109.4 411.2L112.6 414.4L109.4 417.6L106.2 414.4Z" fill="#fff" stroke="#b890e4" stroke-width="1"/>
<path d="M122.2 385.4L125.4 388.6L122.2 391.8L119.0 388.6Z" fill="#fff" stroke="#b890e4" stroke-width="1"/>
<path d="M148.2 399.6L151.4 402.8L148.2 406.0L145.0 402.8Z" fill="#fff" stroke="#b890e4" stroke-width="1"/>
<path d="M200.8 420.2L204.0 423.4L200.8 426.6L197.6 423.4Z" fill="#fff" stroke="#b890e4" stroke-width="1"/>
<path d="M226.0 458.6L229.2 461.8L226.0 465.0L222.8 461.8Z" fill="#fff" stroke="#b890e4" stroke-width="1"/>
<path d="M44.2 352.7 L57.3 367.7 L70.5 372.2 L97.0 428.0 L122.4 484.4 L148.4 531.8" fill="none" stroke="#e1c0ab" stroke-width="1" stroke-linejoin="round"/>
<rect x="41.6" y="350.1" width="5.2" height="5.2" fill="#fff" stroke="#f0b48c" stroke-width="1.1"/>
<rect x="54.7" y="365.1" width="5.2" height="5.2" fill="#fff" stroke="#f0b48c" stroke-width="1.1"/>
<rect x="67.9" y="369.6" width="5.2" height="5.2" fill="#fff" stroke="#f0b48c" stroke-width="1.1"/>
<rect x="94.4" y="425.4" width="5.2" height="5.2" fill="#fff" stroke="#f0b48c" stroke-width="1.1"/>
<rect x="119.8" y="481.8" width="5.2" height="5.2" fill="#fff" stroke="#f0b48c" stroke-width="1.1"/>
<rect x="145.8" y="529.2" width="5.2" height="5.2" fill="#fff" stroke="#f0b48c" stroke-width="1.1"/>
<path d="M44.2 327.3 L70.5 365.7 L83.3 367.9 L97.0 373.3 L109.4 371.7 L127.2 397.7 L135.2 381.5" fill="none" stroke="#111111" stroke-width="1.05" stroke-linejoin="round"/>
<rect x="41.5" y="324.6" width="5.4" height="5.4" fill="#000000"/>
<rect x="67.8" y="363.0" width="5.4" height="5.4" fill="#000000"/>
<rect x="80.6" y="365.2" width="5.4" height="5.4" fill="#000000"/>
<rect x="94.3" y="370.6" width="5.4" height="5.4" fill="#000000"/>
<rect x="106.7" y="369.0" width="5.4" height="5.4" fill="#000000"/>
<rect x="124.5" y="395.0" width="5.4" height="5.4" fill="#000000"/>
<rect x="132.5" y="378.8" width="5.4" height="5.4" fill="#000000"/>
<path d="M82.5 418.0 L109.3 446.6 L122.4 480.2 L135.9 492.5 L148.4 547.3 L160.9 550.7 L174.4 549.7 L200.9 561.3 L248.1 559.6" fill="none" stroke="#5a1a1a" stroke-width="1.05" stroke-linejoin="round"/>
<path d="M82.5 414.8L85.6 420.0H79.4Z" fill="#5e0e10"/>
<path d="M109.3 443.4L112.4 448.6H106.2Z" fill="#5e0e10"/>
<path d="M122.4 477.0L125.5 482.2H119.3Z" fill="#5e0e10"/>
<path d="M135.9 489.3L139.0 494.5H132.8Z" fill="#5e0e10"/>
<path d="M148.4 544.1L151.5 549.3H145.3Z" fill="#5e0e10"/>
<path d="M160.9 547.5L164.0 552.7H157.8Z" fill="#5e0e10"/>
<path d="M174.4 546.5L177.5 551.7H171.3Z" fill="#5e0e10"/>
<path d="M200.9 558.1L204.0 563.3H197.8Z" fill="#5e0e10"/>
<path d="M248.1 556.4L251.2 561.6H245.0Z" fill="#5e0e10"/>
<path d="M44.2 382.7 L57.3 422.0 L70.0 440.9 L83.0 473.6 L135.4 496.7 L183.0 536.0" fill="none" stroke="#aeaeb3" stroke-width="1" stroke-linejoin="round"/>
<path d="M44.2 379.8L47.1 382.7L44.2 385.6L41.3 382.7Z" fill="#a4a4ae"/>
<path d="M57.3 419.1L60.2 422.0L57.3 424.9L54.4 422.0Z" fill="#a4a4ae"/>
<path d="M70.0 438.0L72.9 440.9L70.0 443.8L67.1 440.9Z" fill="#a4a4ae"/>
<path d="M83.0 470.7L85.9 473.6L83.0 476.5L80.1 473.6Z" fill="#a4a4ae"/>
<path d="M135.4 493.8L138.3 496.7L135.4 499.6L132.5 496.7Z" fill="#a4a4ae"/>
<path d="M183.0 533.1L185.9 536.0L183.0 538.9L180.1 536.0Z" fill="#a4a4ae"/>
<path d="M44.2 378.1 L57.3 381.5 L70.7 419.5 L83.3 402.7 L96.9 373.2 L131.0 505.6" fill="none" stroke="#6e74b1" stroke-width="1" stroke-linejoin="round"/>
<rect x="41.6" y="375.5" width="5.2" height="5.2" fill="#fff" stroke="#5660d2" stroke-width="1.1"/>
<rect x="54.7" y="378.9" width="5.2" height="5.2" fill="#fff" stroke="#5660d2" stroke-width="1.1"/>
<rect x="68.1" y="416.9" width="5.2" height="5.2" fill="#fff" stroke="#5660d2" stroke-width="1.1"/>
<rect x="80.7" y="400.1" width="5.2" height="5.2" fill="#fff" stroke="#5660d2" stroke-width="1.1"/>
<rect x="94.3" y="370.6" width="5.2" height="5.2" fill="#fff" stroke="#5660d2" stroke-width="1.1"/>
<rect x="128.4" y="503.0" width="5.2" height="5.2" fill="#fff" stroke="#5660d2" stroke-width="1.1"/>
<path d="M281.5 517.0 L299.2 543.1 L312.6 533.5 L326.1 524.8 L339.2 547.9 L360.0 547.0 L395.8 546.4" fill="none" stroke="#e9f0d9" stroke-width="1" stroke-linejoin="round"/>
<circle cx="281.5" cy="517.0" r="2.4" fill="#fff" stroke="#e4f2c8" stroke-width="1"/>
<circle cx="299.2" cy="543.1" r="2.4" fill="#fff" stroke="#e4f2c8" stroke-width="1"/>
<circle cx="312.6" cy="533.5" r="2.4" fill="#fff" stroke="#e4f2c8" stroke-width="1"/>
<circle cx="326.1" cy="524.8" r="2.4" fill="#fff" stroke="#e4f2c8" stroke-width="1"/>
<circle cx="339.2" cy="547.9" r="2.4" fill="#fff" stroke="#e4f2c8" stroke-width="1"/>
<circle cx="360.0" cy="547.0" r="2.4" fill="#fff" stroke="#e4f2c8" stroke-width="1"/>
<circle cx="395.8" cy="546.4" r="2.4" fill="#fff" stroke="#e4f2c8" stroke-width="1"/>
<path d="M294.9 524.8 L307.8 528.7 L320.7 517.1 L333.8 517.1 L347.2 518.1 L360.3 530.0" fill="none" stroke="#e7ebaf" stroke-width="1" stroke-linejoin="round"/>
<path d="M291.9 524.8h6M294.9 521.8v6M292.7 522.6l4.4 4.4M297.1 522.6l-4.4 4.4" stroke="#e8ee80" stroke-width="1.2"/>
<path d="M304.8 528.7h6M307.8 525.7v6M305.6 526.5l4.4 4.4M310.0 526.5l-4.4 4.4" stroke="#e8ee80" stroke-width="1.2"/>
<path d="M317.7 517.1h6M320.7 514.1v6M318.5 514.9l4.4 4.4M322.9 514.9l-4.4 4.4" stroke="#e8ee80" stroke-width="1.2"/>
<path d="M330.8 517.1h6M333.8 514.1v6M331.6 514.9l4.4 4.4M336.0 514.9l-4.4 4.4" stroke="#e8ee80" stroke-width="1.2"/>
<path d="M344.2 518.1h6M347.2 515.1v6M345.0 515.9l4.4 4.4M349.4 515.9l-4.4 4.4" stroke="#e8ee80" stroke-width="1.2"/>
<path d="M357.3 530.0h6M360.3 527.0v6M358.1 527.8l4.4 4.4M362.5 527.8l-4.4 4.4" stroke="#e8ee80" stroke-width="1.2"/>
<path d="M281.5 424.0 L294.9 458.1 L307.2 461.9 L320.7 486.7 L333.8 489.8 L360.3 481.7 L438.4 487.5" fill="none" stroke="#d3ece4" stroke-width="1" stroke-linejoin="round"/>
<path d="M278.9 421.4l5.2 5.2M284.1 421.4l-5.2 5.2" stroke="#c2f0e2" stroke-width="1.1"/>
<path d="M292.3 455.5l5.2 5.2M297.5 455.5l-5.2 5.2" stroke="#c2f0e2" stroke-width="1.1"/>
<path d="M304.6 459.3l5.2 5.2M309.8 459.3l-5.2 5.2" stroke="#c2f0e2" stroke-width="1.1"/>
<path d="M318.1 484.1l5.2 5.2M323.3 484.1l-5.2 5.2" stroke="#c2f0e2" stroke-width="1.1"/>
<path d="M331.2 487.2l5.2 5.2M336.4 487.2l-5.2 5.2" stroke="#c2f0e2" stroke-width="1.1"/>
<path d="M357.7 479.1l5.2 5.2M362.9 479.1l-5.2 5.2" stroke="#c2f0e2" stroke-width="1.1"/>
<path d="M435.8 484.9l5.2 5.2M441.0 484.9l-5.2 5.2" stroke="#c2f0e2" stroke-width="1.1"/>
<path d="M281.5 329.9 L295.3 340.7 L307.9 309.4 L321.7 372.4 L339.2 428.8" fill="none" stroke="#8292b2" stroke-width="1" stroke-linejoin="round"/>
<circle cx="281.5" cy="329.9" r="2.4" fill="#fff" stroke="#6a86c2" stroke-width="1"/>
<circle cx="295.3" cy="340.7" r="2.4" fill="#fff" stroke="#6a86c2" stroke-width="1"/>
<circle cx="307.9" cy="309.4" r="2.4" fill="#fff" stroke="#6a86c2" stroke-width="1"/>
<circle cx="321.7" cy="372.4" r="2.4" fill="#fff" stroke="#6a86c2" stroke-width="1"/>
<circle cx="339.2" cy="428.8" r="2.4" fill="#fff" stroke="#6a86c2" stroke-width="1"/>
<path d="M281.5 477.3 L294.9 472.8 L307.8 499.7 L321.8 502.7 L334.2 511.9 L347.6 523.5 L360.3 538.7 L399.5 531.4" fill="none" stroke="#b24657" stroke-width="1" stroke-linejoin="round"/>
<circle cx="281.5" cy="477.3" r="2.5" fill="#e01838"/>
<circle cx="294.9" cy="472.8" r="2.5" fill="#e01838"/>
<circle cx="307.8" cy="499.7" r="2.5" fill="#e01838"/>
<circle cx="321.8" cy="502.7" r="2.5" fill="#e01838"/>
<circle cx="334.2" cy="511.9" r="2.5" fill="#e01838"/>
<circle cx="347.6" cy="523.5" r="2.5" fill="#e01838"/>
<circle cx="360.3" cy="538.7" r="2.5" fill="#e01838"/>
<circle cx="399.5" cy="531.4" r="2.5" fill="#e01838"/>
<path d="M281.5 461.5 L294.9 474.1 L307.5 480.7 L321.3 478.0 L333.8 480.7 L347.6 464.4 L360.2 459.7 L386.0 468.6 L438.4 498.4 L465.1 492.7" fill="none" stroke="#b8a3d0" stroke-width="1" stroke-linejoin="round"/>
<path d="M281.5 458.3L284.7 461.5L281.5 464.7L278.3 461.5Z" fill="#fff" stroke="#b890e4" stroke-width="1"/>
<path d="M294.9 470.9L298.1 474.1L294.9 477.3L291.7 474.1Z" fill="#fff" stroke="#b890e4" stroke-width="1"/>
<path d="M307.5 477.5L310.7 480.7L307.5 483.9L304.3 480.7Z" fill="#fff" stroke="#b890e4" stroke-width="1"/>
<path d="M321.3 474.8L324.5 478.0L321.3 481.2L318.1 478.0Z" fill="#fff" stroke="#b890e4" stroke-width="1"/>
<path d="M333.8 477.5L337.0 480.7L333.8 483.9L330.6 480.7Z" fill="#fff" stroke="#b890e4" stroke-width="1"/>
<path d="M347.6 461.2L350.8 464.4L347.6 467.6L344.4 464.4Z" fill="#fff" stroke="#b890e4" stroke-width="1"/>
<path d="M360.2 456.5L363.4 459.7L360.2 462.9L357.0 459.7Z" fill="#fff" stroke="#b890e4" stroke-width="1"/>
<path d="M386.0 465.4L389.2 468.6L386.0 471.8L382.8 468.6Z" fill="#fff" stroke="#b890e4" stroke-width="1"/>
<path d="M438.4 495.2L441.6 498.4L438.4 501.6L435.2 498.4Z" fill="#fff" stroke="#b890e4" stroke-width="1"/>
<path d="M465.1 489.5L468.3 492.7L465.1 495.9L461.9 492.7Z" fill="#fff" stroke="#b890e4" stroke-width="1"/>
<path d="M281.5 481.2 L294.9 494.0 L307.8 518.1 L333.8 540.8 L360.3 552.3 L386.0 561.5" fill="none" stroke="#e1c0ab" stroke-width="1" stroke-linejoin="round"/>
<rect x="278.9" y="478.6" width="5.2" height="5.2" fill="#fff" stroke="#f0b48c" stroke-width="1.1"/>
<rect x="292.3" y="491.4" width="5.2" height="5.2" fill="#fff" stroke="#f0b48c" stroke-width="1.1"/>
<rect x="305.2" y="515.5" width="5.2" height="5.2" fill="#fff" stroke="#f0b48c" stroke-width="1.1"/>
<rect x="331.2" y="538.2" width="5.2" height="5.2" fill="#fff" stroke="#f0b48c" stroke-width="1.1"/>
<rect x="357.7" y="549.7" width="5.2" height="5.2" fill="#fff" stroke="#f0b48c" stroke-width="1.1"/>
<rect x="383.4" y="558.9" width="5.2" height="5.2" fill="#fff" stroke="#f0b48c" stroke-width="1.1"/>
<path d="M281.5 374.8 L321.5 403.4 L334.2 426.5 L347.6 440.4 L365.1 479.3 L373.6 447.5" fill="none" stroke="#111111" stroke-width="1.05" stroke-linejoin="round"/>
<rect x="278.8" y="372.1" width="5.4" height="5.4" fill="#000000"/>
<rect x="318.8" y="400.7" width="5.4" height="5.4" fill="#000000"/>
<rect x="331.5" y="423.8" width="5.4" height="5.4" fill="#000000"/>
<rect x="344.9" y="437.7" width="5.4" height="5.4" fill="#000000"/>
<rect x="362.4" y="476.6" width="5.4" height="5.4" fill="#000000"/>
<rect x="370.9" y="444.8" width="5.4" height="5.4" fill="#000000"/>
<path d="M320.7 491.0 L347.2 502.7 L360.3 493.1 L373.4 515.9 L386.0 535.5 L399.5 520.0 L412.4 544.4 L438.4 543.3" fill="none" stroke="#5a1a1a" stroke-width="1.05" stroke-linejoin="round"/>
<path d="M320.7 487.8L323.8 493.0H317.6Z" fill="#5e0e10"/>
<path d="M347.2 499.5L350.3 504.7H344.1Z" fill="#5e0e10"/>
<path d="M360.3 489.9L363.4 495.1H357.2Z" fill="#5e0e10"/>
<path d="M373.4 512.7L376.5 517.9H370.3Z" fill="#5e0e10"/>
<path d="M386.0 532.3L389.1 537.5H382.9Z" fill="#5e0e10"/>
<path d="M399.5 516.8L402.6 522.0H396.4Z" fill="#5e0e10"/>
<path d="M412.4 541.2L415.5 546.4H409.3Z" fill="#5e0e10"/>
<path d="M438.4 540.1L441.5 545.3H435.3Z" fill="#5e0e10"/>
<path d="M281.5 517.1 L294.9 524.8" fill="none" stroke="#aeaeb3" stroke-width="1" stroke-linejoin="round"/>
<path d="M281.5 514.2L284.4 517.1L281.5 520.0L278.6 517.1Z" fill="#a4a4ae"/>
<path d="M294.9 521.9L297.8 524.8L294.9 527.7L292.0 524.8Z" fill="#a4a4ae"/>
<rect x="278.9" y="410.0" width="5.2" height="5.2" fill="#fff" stroke="#5660d2" stroke-width="1.1"/>
<path d="M42.5 221.2H248.5" stroke="#000" stroke-width="2"/>
<path d="M167 32.4H181" stroke="#6a86c2" stroke-width="1"/>
<circle cx="174.0" cy="32.4" r="2.4" fill="#fff" stroke="#6a86c2" stroke-width="1"/>
<text x="186.5" y="35.0" class="lg">1</text>
<path d="M167 42.4H181" stroke="#e01838" stroke-width="1"/>
<circle cx="174.0" cy="42.4" r="2.5" fill="#e01838"/>
<text x="186.5" y="45.0" class="lg">2</text>
<path d="M167 52.3H181" stroke="#98d676" stroke-width="1"/>
<path d="M174.0 49.4L176.7 54.1H171.3Z" fill="#fff" stroke="#98d676" stroke-width="1"/>
<text x="186.5" y="54.9" class="lg">3</text>
<path d="M167 63.2H181" stroke="#b890e4" stroke-width="1"/>
<path d="M174.0 60.0L177.2 63.2L174.0 66.4L170.8 63.2Z" fill="#fff" stroke="#b890e4" stroke-width="1"/>
<text x="186.5" y="65.8" class="lg">4</text>
<path d="M167 73.7H181" stroke="#e8ee80" stroke-width="1"/>
<path d="M171.0 73.7h6M174.0 70.7v6M171.8 71.5l4.4 4.4M176.2 71.5l-4.4 4.4" stroke="#e8ee80" stroke-width="1.2"/>
<text x="186.5" y="76.3" class="lg">5</text>
<path d="M167 84.4H181" stroke="#c2f0e2" stroke-width="1"/>
<path d="M171.4 81.8l5.2 5.2M176.6 81.8l-5.2 5.2" stroke="#c2f0e2" stroke-width="1.1"/>
<text x="186.5" y="87.0" class="lg">6</text>
<path d="M167 95.5H181" stroke="#f0b48c" stroke-width="1"/>
<rect x="171.4" y="92.9" width="5.2" height="5.2" fill="#fff" stroke="#f0b48c" stroke-width="1.1"/>
<text x="186.5" y="98.1" class="lg">7</text>
<path d="M167 106.4H181" stroke="#000000" stroke-width="1"/>
<rect x="171.3" y="103.7" width="5.4" height="5.4" fill="#000000"/>
<text x="186.5" y="109.0" class="lg">8</text>
<path d="M167 117.0H181" stroke="#5e0e10" stroke-width="1"/>
<path d="M174.0 113.8L177.1 119.0H170.9Z" fill="#5e0e10"/>
<text x="186.5" y="119.6" class="lg">9</text>
<path d="M167 127.6H181" stroke="#a4a4ae" stroke-width="1"/>
<path d="M174.0 124.7L176.9 127.6L174.0 130.5L171.1 127.6Z" fill="#a4a4ae"/>
<text x="186.5" y="130.2" class="lg">10</text>
<path d="M167 138.3H181" stroke="#e4f2c8" stroke-width="1"/>
<circle cx="174.0" cy="138.3" r="2.4" fill="#fff" stroke="#e4f2c8" stroke-width="1"/>
<text x="186.5" y="140.9" class="lg">11</text>
<path d="M167 149.2H181" stroke="#5660d2" stroke-width="1"/>
<rect x="171.4" y="146.6" width="5.2" height="5.2" fill="#fff" stroke="#5660d2" stroke-width="1.1"/>
<text x="186.5" y="151.8" class="lg">12</text>
<text x="48.3" y="26.2" class="pl">A</text>
<text x="289" y="25.8" class="pl">B</text>
<text x="48" y="319.2" class="pl">C</text>
<text x="288.8" y="318.8" class="pl">D</text>
<text class="ti" text-anchor="middle" transform="translate(15,119) rotate(-90)">Serum ALT [U/L]</text>
<text class="ti" text-anchor="middle" transform="translate(504,152) rotate(90)">Serum Ferritin [<tspan font-style="italic">μ</tspan>g/L]</text>
<text class="ti" text-anchor="middle" transform="translate(16,433.5) rotate(-90)">Liver iron [<tspan font-style="italic">μ</tspan>mol/g]</text>
<text class="ti" text-anchor="middle" transform="translate(504,441.4) rotate(90)">Urinary iron [mg /24h]</text>
<text class="tt" x="205.3" y="605.2">Time [months]</text>
</svg></body></html>
